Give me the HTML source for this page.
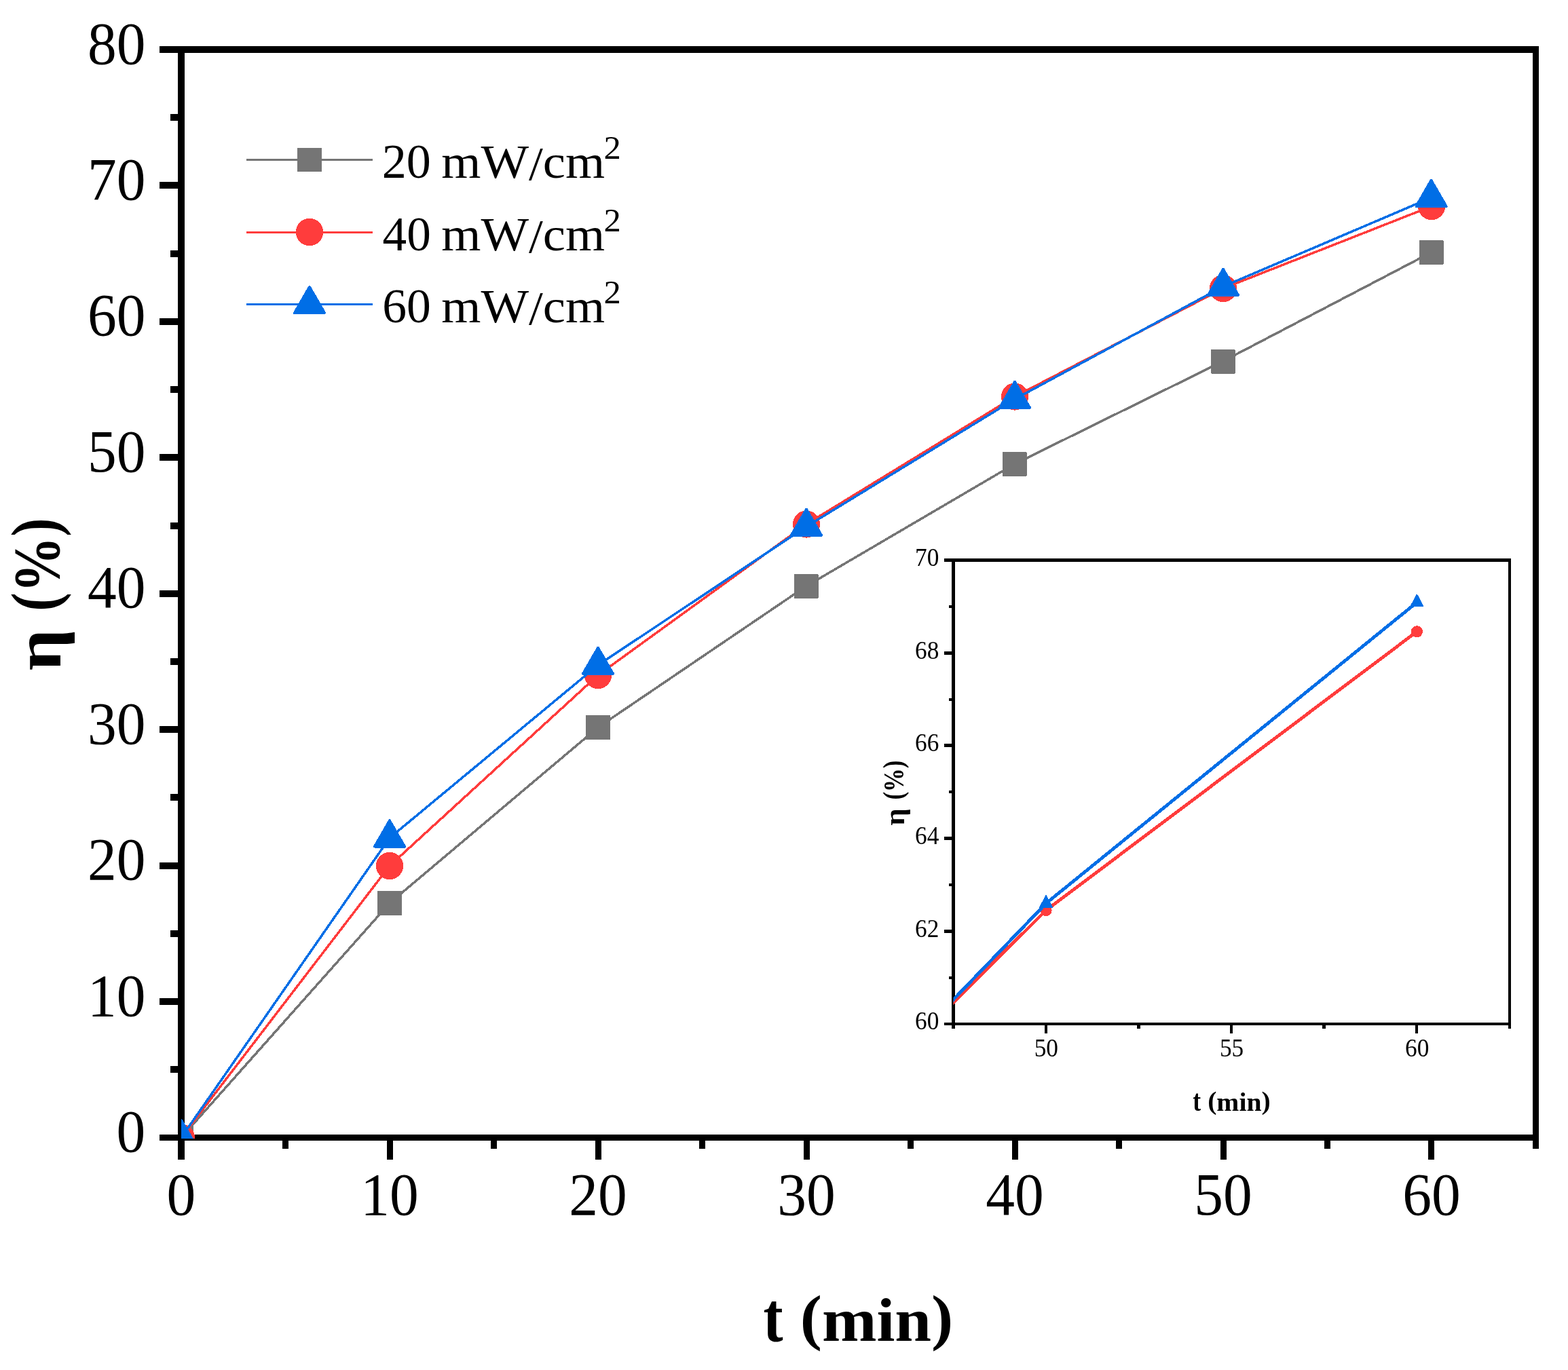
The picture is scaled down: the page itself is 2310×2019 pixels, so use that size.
<!DOCTYPE html>
<html lang="en"><head><meta charset="utf-8"><title>η (%) vs t (min)</title>
<style>html,body{margin:0;padding:0;background:#fff;}body{width:2310px;height:2019px;overflow:hidden;}svg{display:block;}text{font-family:"Liberation Serif","DejaVu Serif",serif;fill:#000;}</style>
</head><body>
<svg width="2310" height="2019" viewBox="0 0 2310 2019">
<rect width="2310" height="2019" fill="#fff"/>
<defs>
<clipPath id="cm"><rect x="267" y="60" width="2000" height="1618"/></clipPath>
<clipPath id="ci"><rect x="1404.5" y="825.5" width="819.5" height="683.5"/></clipPath>
</defs>
<path fill="#000" shape-rendering="crispEdges" d="M235 68H2267V78H235ZM235 1672H2267V1681H235ZM262 68H272V1709H262ZM2258 68H2267V1693H2258ZM235 1471H262V1481H235ZM235 1271H262V1281H235ZM235 1070H262V1080H235ZM235 870H262V880H235ZM235 669H262V679H235ZM235 469H262V479H235ZM235 268H262V278H235ZM251 1571H262V1581H251ZM251 1371H262V1381H251ZM251 1170H262V1180H251ZM251 970H262V980H251ZM251 770H262V780H251ZM251 569H262V579H251ZM251 369H262V379H251ZM251 168H262V178H251ZM570 1681H579V1709H570ZM877 1681H886V1709H877ZM1184 1681H1193V1709H1184ZM1491 1681H1500V1709H1491ZM1798 1681H1807V1709H1798ZM2104 1681H2113V1709H2104ZM416 1681H425V1693H416ZM723 1681H732V1693H723ZM1030 1681H1039V1693H1030ZM1337 1681H1346V1693H1337ZM1644 1681H1653V1693H1644ZM1951 1681H1960V1693H1951Z"/>
<g font-size="89.3">
<text x="171.6" y="1697.0" textLength="42.8" lengthAdjust="spacingAndGlyphs">0</text>
<text x="128.9" y="1496.6" textLength="85.5" lengthAdjust="spacingAndGlyphs">10</text>
<text x="128.9" y="1296.1" textLength="85.5" lengthAdjust="spacingAndGlyphs">20</text>
<text x="128.9" y="1095.7" textLength="85.5" lengthAdjust="spacingAndGlyphs">30</text>
<text x="128.9" y="895.2" textLength="85.5" lengthAdjust="spacingAndGlyphs">40</text>
<text x="128.9" y="694.8" textLength="85.5" lengthAdjust="spacingAndGlyphs">50</text>
<text x="128.9" y="494.4" textLength="85.5" lengthAdjust="spacingAndGlyphs">60</text>
<text x="128.9" y="293.9" textLength="85.5" lengthAdjust="spacingAndGlyphs">70</text>
<text x="128.9" y="93.5" textLength="85.5" lengthAdjust="spacingAndGlyphs">80</text>
<text x="245.6" y="1790.3" textLength="42.8" lengthAdjust="spacingAndGlyphs">0</text>
<text x="531.2" y="1790.3" textLength="85.5" lengthAdjust="spacingAndGlyphs">10</text>
<text x="838.2" y="1790.3" textLength="85.5" lengthAdjust="spacingAndGlyphs">20</text>
<text x="1145.2" y="1790.3" textLength="85.5" lengthAdjust="spacingAndGlyphs">30</text>
<text x="1452.2" y="1790.3" textLength="85.5" lengthAdjust="spacingAndGlyphs">40</text>
<text x="1759.2" y="1790.3" textLength="85.5" lengthAdjust="spacingAndGlyphs">50</text>
<text x="2066.2" y="1790.3" textLength="85.5" lengthAdjust="spacingAndGlyphs">60</text>
</g>
<text y="1976.00" font-size="92.0" font-weight="bold" ><tspan x="1124.39" font-size="103.01" textLength="29.09" lengthAdjust="spacingAndGlyphs" dy="-0.11">t</tspan> <tspan x="1178.75" font-size="91.50" textLength="225.60" lengthAdjust="spacingAndGlyphs" dy="-4.39 4.5 0 0 -4.5">(min)</tspan></text>
<text y="0.00" font-size="92.0" font-weight="bold" transform="translate(87 877) rotate(-90)"><tspan x="-111.64" font-size="98.00" textLength="61.38" lengthAdjust="spacingAndGlyphs" dy="2">η</tspan> <tspan x="-23.67" font-size="97.00" textLength="137.29" lengthAdjust="spacingAndGlyphs" dy="-5 3 -3">(%)</tspan></text>
<g clip-path="url(#cm)" fill="none" stroke-linejoin="round" shape-rendering="crispEdges">
<polyline points="267.0,1676.5 574.0,1331.0 881.0,1072.0 1187.5,864.0 1494.5,684.0 1801.5,532.5 2108.5,372.0" stroke="#757575" stroke-width="3.5"/>
<rect x="249.0" y="1658.5" width="36" height="36" rx="1" fill="#757575"/>
<rect x="556.0" y="1313.0" width="36" height="36" rx="1" fill="#757575"/>
<rect x="863.0" y="1054.0" width="36" height="36" rx="1" fill="#757575"/>
<rect x="1169.5" y="846.0" width="36" height="36" rx="1" fill="#757575"/>
<rect x="1476.5" y="666.0" width="36" height="36" rx="1" fill="#757575"/>
<rect x="1783.5" y="514.5" width="36" height="36" rx="1" fill="#757575"/>
<rect x="2090.5" y="354.0" width="36" height="36" rx="1" fill="#757575"/>
<polyline points="267.0,1676.5 574.0,1276.0 881.0,995.0 1188.0,772.5 1495.0,584.5 1802.0,425.0 2109.0,304.0" stroke="#FF3C3C" stroke-width="3.5"/>
<circle cx="267.0" cy="1676.5" r="20.1" fill="#FF3C3C"/>
<circle cx="574.0" cy="1276.0" r="20.1" fill="#FF3C3C"/>
<circle cx="881.0" cy="995.0" r="20.1" fill="#FF3C3C"/>
<circle cx="1188.0" cy="772.5" r="20.1" fill="#FF3C3C"/>
<circle cx="1495.0" cy="584.5" r="20.1" fill="#FF3C3C"/>
<circle cx="1802.0" cy="425.0" r="20.1" fill="#FF3C3C"/>
<circle cx="2109.0" cy="304.0" r="20.1" fill="#FF3C3C"/>
<polyline points="267.0,1676.5 574.0,1234.9 881.0,980.2 1188.0,776.0 1495.0,588.2 1802.0,422.2 2108.5,291.3" stroke="#006EE6" stroke-width="3.5"/>
<polygon points="267.00,1651.04 289.05,1689.23 244.95,1689.23" fill="#006EE6" stroke="#006EE6" stroke-width="4.0" stroke-linejoin="round"/>
<polygon points="574.00,1209.44 596.05,1247.63 551.95,1247.63" fill="#006EE6" stroke="#006EE6" stroke-width="4.0" stroke-linejoin="round"/>
<polygon points="881.00,954.74 903.05,992.93 858.95,992.93" fill="#006EE6" stroke="#006EE6" stroke-width="4.0" stroke-linejoin="round"/>
<polygon points="1188.00,750.54 1210.05,788.73 1165.95,788.73" fill="#006EE6" stroke="#006EE6" stroke-width="4.0" stroke-linejoin="round"/>
<polygon points="1495.00,562.74 1517.05,600.93 1472.95,600.93" fill="#006EE6" stroke="#006EE6" stroke-width="4.0" stroke-linejoin="round"/>
<polygon points="1802.00,396.74 1824.05,434.93 1779.95,434.93" fill="#006EE6" stroke="#006EE6" stroke-width="4.0" stroke-linejoin="round"/>
<polygon points="2108.50,265.84 2130.55,304.03 2086.45,304.03" fill="#006EE6" stroke="#006EE6" stroke-width="4.0" stroke-linejoin="round"/>
</g>
<g shape-rendering="crispEdges">
<line x1="363" y1="235.5" x2="549" y2="235.5" stroke="#757575" stroke-width="3"/>
<line x1="363" y1="342.2" x2="549" y2="342.2" stroke="#FF3C3C" stroke-width="3"/>
<line x1="363" y1="448.4" x2="549" y2="448.4" stroke="#006EE6" stroke-width="3"/>
<rect x="438" y="217.7" width="36" height="35.6" fill="#757575"/>
<circle cx="456" cy="342" r="20.3" fill="#FF3C3C"/>
<polygon points="456.00,422.94 478.05,461.13 433.95,461.13" fill="#006EE6" stroke="#006EE6" stroke-width="4.0" stroke-linejoin="round"/>
</g>
<text y="262.00" font-size="71.0" ><tspan x="562.73" font-size="71.28" textLength="72.12" lengthAdjust="spacingAndGlyphs" dy="0.3">20</tspan> <tspan x="650.33" font-size="70.00" textLength="240.94" lengthAdjust="spacingAndGlyphs" dy="-0.3 0 3 -3">mW/cm</tspan><tspan x="889.57" font-size="48.20" textLength="25.32" lengthAdjust="spacingAndGlyphs" dy="-27.9">2</tspan></text>
<text y="368.70" font-size="71.0" ><tspan x="563.61" font-size="71.28" textLength="71.20" lengthAdjust="spacingAndGlyphs" dy="0.3">40</tspan> <tspan x="650.33" font-size="70.00" textLength="240.94" lengthAdjust="spacingAndGlyphs" dy="-0.3 0 3 -3">mW/cm</tspan><tspan x="889.57" font-size="48.20" textLength="25.32" lengthAdjust="spacingAndGlyphs" dy="-27.9">2</tspan></text>
<text y="474.90" font-size="71.0" ><tspan x="563.22" font-size="71.28" textLength="71.60" lengthAdjust="spacingAndGlyphs" dy="0.3">60</tspan> <tspan x="650.33" font-size="70.00" textLength="240.94" lengthAdjust="spacingAndGlyphs" dy="-0.3 0 3 -3">mW/cm</tspan><tspan x="889.57" font-size="48.20" textLength="25.32" lengthAdjust="spacingAndGlyphs" dy="-27.9">2</tspan></text>
<path fill="#000" shape-rendering="crispEdges" d="M1391 823H2226V828H1391ZM1391 1507H2226V1511H1391ZM1402 823H1407V1516H1402ZM2222 823H2226V1516H2222ZM1391 1370H1402V1375H1391ZM1391 1233H1402V1238H1391ZM1391 1096H1402V1101H1391ZM1391 960H1402V965H1391ZM1398 1439H1402V1443H1398ZM1398 1302H1402V1306H1398ZM1398 1165H1402V1169H1398ZM1398 1029H1402V1033H1398ZM1398 892H1402V896H1398ZM1539 1511H1543V1523H1539ZM1812 1511H1816V1523H1812ZM2085 1511H2089V1523H2085ZM1675 1511H1680V1516H1675ZM1948 1511H1953V1516H1948Z"/>
<g font-size="37.0">
<text x="1348.0" y="1517.4" textLength="35.3" lengthAdjust="spacingAndGlyphs">60</text>
<text x="1348.0" y="1380.7" textLength="35.3" lengthAdjust="spacingAndGlyphs">62</text>
<text x="1348.0" y="1244.0" textLength="35.3" lengthAdjust="spacingAndGlyphs">64</text>
<text x="1348.0" y="1107.3" textLength="35.3" lengthAdjust="spacingAndGlyphs">66</text>
<text x="1348.0" y="970.6" textLength="35.3" lengthAdjust="spacingAndGlyphs">68</text>
<text x="1348.0" y="833.9" textLength="35.3" lengthAdjust="spacingAndGlyphs">70</text>
<text x="1523.7" y="1556.8" textLength="35.3" lengthAdjust="spacingAndGlyphs">50</text>
<text x="1796.9" y="1556.8" textLength="35.3" lengthAdjust="spacingAndGlyphs">55</text>
<text x="2070.0" y="1556.8" textLength="35.3" lengthAdjust="spacingAndGlyphs">60</text>
</g>
<text y="1637.00" font-size="38.5" font-weight="bold" ><tspan x="1757.33" font-size="44.17" textLength="11.83" lengthAdjust="spacingAndGlyphs" dy="-0.13">t</tspan> <tspan x="1779.16" font-size="38.60" textLength="92.59" lengthAdjust="spacingAndGlyphs" dy="-1.87 2 0 0 -2">(min)</tspan></text>
<text y="0.00" font-size="38.5" font-weight="bold" transform="translate(1331 1169) rotate(-90)"><tspan x="-47.68" font-size="41.00" textLength="25.51" lengthAdjust="spacingAndGlyphs" dy="0.6">η</tspan> <tspan x="-9.53" font-size="41.50" textLength="57.96" lengthAdjust="spacingAndGlyphs" dy="-1.9 1.3 -1.3">(%)</tspan></text>
<g clip-path="url(#ci)" fill="none" stroke-linejoin="round" shape-rendering="crispEdges">
<polyline points="994.8,1884.9 1541.1,1341.5 2087.4,930.8" stroke="#FF3C3C" stroke-width="4.8"/>
<circle cx="1541.1" cy="1341.5" r="8.6" fill="#FF3C3C"/>
<circle cx="2087.4" cy="930.8" r="8.6" fill="#FF3C3C"/>
<polyline points="994.8,1898.6 1541.1,1331.3 2087.4,887.7" stroke="#006EE6" stroke-width="4.8"/>
<polygon points="1541.08,1320.22 1549.88,1336.82 1532.28,1336.82" fill="#006EE6" stroke="#006EE6" stroke-width="2.0" stroke-linejoin="round"/>
<polygon points="2087.42,876.63 2096.22,893.23 2078.62,893.23" fill="#006EE6" stroke="#006EE6" stroke-width="2.0" stroke-linejoin="round"/>
</g>
</svg>
</body></html>
